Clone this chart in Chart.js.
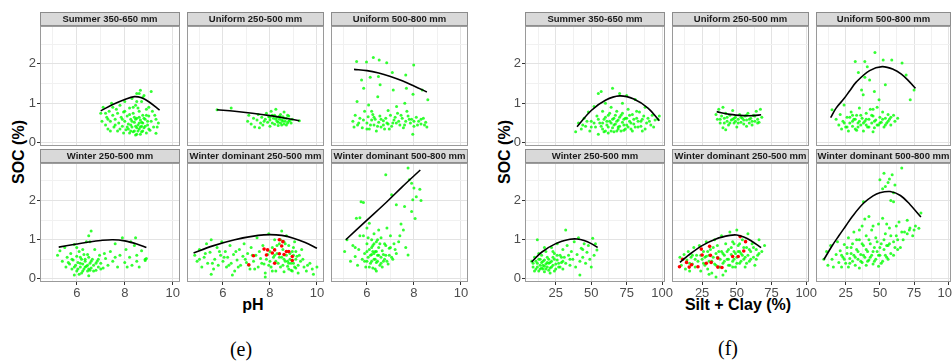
<!DOCTYPE html>
<html>
<head>
<meta charset="utf-8">
<script src="https://cdn.jsdelivr.net/npm/chart.js@4.4.1/dist/chart.umd.min.js"></script>
<style>
body{margin:0;background:#fff;width:952px;height:362px;position:relative;overflow:hidden;font-family:"Liberation Sans",Arial,sans-serif}
canvas{position:absolute}
.lab{position:absolute;transform:translate(-50%,-50%);white-space:nowrap;font-weight:bold;font-size:16px;color:#000}
.rot{transform:translate(-50%,-50%) rotate(-90deg)}
.cap{position:absolute;transform:translate(-50%,-50%);font-family:"Liberation Serif","Times New Roman",serif;font-size:20px;color:#000}
</style>
</head>
<body>
<div class="lab rot" style="left:19px;top:152px">SOC (%)</div>
<div class="lab rot" style="left:505px;top:152px">SOC (%)</div>
<div class="lab" style="left:253px;top:305px">pH</div>
<div class="lab" style="left:738px;top:305px">Silt + Clay (%)</div>
<div class="cap" style="left:241px;top:349px">(e)</div>
<div class="cap" style="left:728px;top:348px">(f)</div>
<script>
// strip labels, row by row
const stripNames = ["Summer 350-650 mm", "Uniform 250-500 mm", "Uniform 500-800 mm",
  "Winter 250-500 mm", "Winter dominant 250-500 mm", "Winter dominant 500-800 mm"];

const socTicks = [0, 1, 2];
const socMinor = [0.5, 1.5, 2.5];
const phTicks = [6, 8, 10];
const phMinor = [5, 7, 9];
const scTicks = [25, 50, 75, 100];
const scMinor = [12.5, 37.5, 62.5, 87.5];

// ---- (e) SOC vs pH ----
const e1 = [[7.0,0.75],[7.05,0.55],[7.1,0.9],[7.2,0.45],[7.25,0.65],[7.3,0.35],[7.35,0.8],[7.4,0.55],[7.45,1.0],[7.5,0.7],[7.55,0.4],[7.6,0.6],[7.65,0.85],[7.7,0.3],[7.75,0.5],[7.8,0.95],[7.85,0.65],[7.9,0.42],[7.95,0.78],[8.0,0.55],[8.0,1.05],[8.05,0.33],[8.1,0.68],[8.15,0.48],[8.2,0.88],[8.2,0.25],[8.25,0.6],[8.3,1.12],[8.3,0.4],[8.35,0.75],[8.4,0.52],[8.4,0.3],[8.45,0.95],[8.5,0.62],[8.5,1.25],[8.5,0.22],[8.55,0.45],[8.6,0.8],[8.6,0.35],[8.65,1.33],[8.65,0.58],[8.7,0.28],[8.7,1.05],[8.75,0.5],[8.75,0.7],[8.8,0.38],[8.8,1.2],[8.85,0.6],[8.9,0.25],[8.9,0.85],[8.95,0.45],[9.0,0.68],[9.05,0.32],[9.1,0.55],[9.1,1.3],[9.2,0.4],[9.25,0.7],[9.3,0.24],[9.4,0.5],[8.45,0.42],[8.55,0.3],[8.3,0.55],[8.15,0.35],[7.95,0.25],[8.6,0.5],[8.4,0.65],[8.7,0.42],[8.25,0.45],
  [8.2,0.72],[8.35,0.28],[8.45,0.6],[8.5,0.38],[8.55,0.88],[8.6,0.65],[8.65,0.4],[8.7,0.52],[8.75,0.3],[8.8,0.62],[8.85,0.42],[8.9,0.7],[8.95,0.55],[9.0,0.35],[9.0,0.9],[8.1,0.4],[8.0,0.8],[7.9,0.6],[7.8,0.35],[7.7,0.75],[7.6,0.45],[7.5,0.9],[7.4,0.3],[7.3,0.6],[7.2,0.75],[8.35,0.9],[8.5,1.05],[8.75,1.15],[8.6,1.25],[9.15,0.8],[9.3,0.6],[9.35,0.4],[8.25,0.3],[8.45,0.2],[8.65,0.22]];
const e2 = [[5.75,0.84],[6.35,0.88],[7.05,0.55],[7.1,0.7],[7.2,0.48],[7.3,0.62],[7.35,0.4],[7.45,0.58],[7.5,0.72],[7.6,0.5],[7.65,0.65],[7.7,0.45],[7.8,0.6],[7.85,0.75],[7.9,0.52],[7.95,0.66],[8.0,0.42],[8.0,0.58],[8.05,0.8],[8.1,0.5],[8.15,0.62],[8.2,0.7],[8.2,0.47],[8.25,0.85],[8.3,0.55],[8.3,0.65],[8.35,0.44],[8.4,0.6],[8.45,0.72],[8.45,0.5],[8.5,0.58],[8.55,0.66],[8.6,0.48],[8.6,0.78],[8.65,0.55],[8.7,0.62],[8.75,0.5],[8.8,0.68],[8.85,0.57],[8.95,0.6],[9.25,0.56],[7.55,0.38],
  [8.1,0.7],[8.25,0.6],[8.35,0.52],[8.4,0.68],[8.5,0.45],[8.55,0.55],[8.6,0.62],[8.7,0.45],[8.75,0.7],[8.8,0.55],[8.9,0.5],[8.0,0.65],[7.75,0.55],[8.45,0.65]];
const e3 = [[5.56,2.06],[5.98,2.05],[6.27,2.16],[6.52,2.1],[6.84,2.03],[7.99,1.97],[5.77,1.59],[6.14,1.66],[6.49,1.68],[7.08,1.78],[7.65,1.72],[5.86,1.38],[6.56,1.47],[7.12,1.34],[7.68,1.38],[7.96,1.23],[8.35,1.34],[8.59,1.09],[5.58,1.05],[6.07,0.96],[6.46,1.17],[7.26,0.92],[7.61,1.0],
  [5.4,0.55],[5.5,0.7],[5.6,0.45],[5.7,0.62],[5.8,0.38],[5.9,0.8],[6.0,0.5],[6.05,0.66],[6.1,0.35],[6.2,0.58],[6.25,0.72],[6.3,0.45],[6.35,0.6],[6.4,0.3],[6.5,0.52],[6.55,0.68],[6.6,0.4],[6.7,0.56],[6.75,0.35],[6.8,0.62],[6.9,0.48],[7.0,0.7],[7.05,0.42],[7.15,0.58],[7.25,0.5],[7.3,0.75],[7.4,0.45],[7.5,0.62],[7.55,0.38],[7.65,0.55],[7.75,0.68],[7.85,0.5],[7.9,0.6],[8.0,0.42],[8.1,0.65],[8.2,0.55],[8.3,0.48],[8.4,0.62],[8.5,0.52],[8.55,0.4],[7.95,0.22],
  [5.45,0.4],[5.65,0.5],[5.85,0.58],[6.0,0.35],[6.15,0.45],[6.3,0.65],[6.45,0.42],[6.6,0.6],[6.7,0.45],[6.85,0.5],[6.95,0.35],[7.1,0.5],[7.2,0.65],[7.35,0.55],[7.45,0.7],[7.6,0.45],[7.8,0.6],[8.0,0.55],[8.15,0.45],[8.3,0.6],[8.45,0.45],[6.2,0.8],[6.9,0.82],[7.7,0.8]];
const e4 = [[5.2,0.6],[5.3,0.72],[5.4,0.45],[5.5,0.8],[5.55,0.3],[5.6,0.55],[5.7,0.38],[5.75,0.65],[5.8,0.25],[5.85,0.48],[5.9,0.88],[5.95,0.35],[6.0,0.58],[6.0,0.2],[6.05,0.42],[6.1,0.7],[6.15,0.3],[6.2,0.5],[6.2,0.15],[6.25,0.38],[6.3,0.62],[6.3,0.25],[6.35,0.45],[6.4,0.95],[6.4,0.32],[6.45,0.2],[6.5,0.55],[6.5,1.1],[6.55,0.4],[6.6,0.28],[6.6,1.22],[6.65,0.5],[6.7,0.35],[6.75,0.75],[6.8,0.22],[6.85,0.45],[6.9,0.3],[6.95,0.6],[7.0,0.4],[7.1,0.28],[7.2,0.52],[7.3,0.35],[7.4,0.7],[7.5,0.45],[7.6,0.9],[7.7,0.3],[7.8,0.6],[7.9,1.05],[8.0,0.42],[8.05,0.75],[8.2,0.55],[8.3,0.35],[8.4,0.85],[8.45,1.05],[8.5,0.6],[8.6,0.3],[8.7,0.72],[8.85,0.5],[8.9,0.52],[8.85,0.47],[6.1,0.12],[6.5,0.08],[5.9,0.1],[6.35,0.3],[6.55,0.22],[6.15,0.4],
  [5.65,0.42],[5.8,0.5],[5.9,0.3],[6.05,0.25],[6.15,0.55],[6.25,0.2],[6.35,0.5],[6.45,0.35],[6.5,0.25],[6.6,0.45],[6.7,0.2],[6.8,0.4],[6.9,0.5],[7.0,0.25],[6.45,0.62],[6.25,0.75],[6.0,0.8],[6.55,0.95],[7.15,0.65],[7.6,0.55],[8.1,0.3],[8.25,0.95],[8.5,0.45]];
const e5 = [[4.8,0.6],[4.9,0.45],[5.0,0.75],[5.1,0.3],[5.2,0.55],[5.3,0.9],[5.35,0.4],[5.45,0.68],[5.5,1.0],[5.6,0.25],[5.65,0.5],[5.75,0.8],[5.8,0.35],[5.9,0.6],[5.95,0.95],[6.0,0.45],[6.1,0.7],[6.15,0.3],[6.2,0.55],[6.3,0.85],[6.35,0.4],[6.45,0.62],[6.5,0.2],[6.6,0.48],[6.7,0.75],[6.75,0.35],[6.85,0.58],[6.9,0.9],[7.0,0.42],[7.05,0.65],[7.15,0.25],[7.2,0.8],[7.3,0.45],[7.4,0.6],[7.45,1.05],[7.5,0.3],[7.6,0.52],[7.7,0.85],[7.75,0.38],[7.8,0.15],[7.9,0.62],[7.95,1.15],[8.0,0.45],[8.05,0.3],[8.1,0.8],[8.15,0.55],[8.2,1.0],[8.25,0.2],[8.3,0.65],[8.35,0.4],[8.4,0.9],[8.45,0.3],[8.5,0.55],[8.5,1.22],[8.55,0.75],[8.6,0.18],[8.65,0.45],[8.7,1.1],[8.7,0.6],[8.75,0.32],[8.8,0.85],[8.85,0.5],[8.9,0.22],[8.95,0.7],[9.0,0.4],[9.05,0.95],[9.1,0.28],[9.15,0.58],[9.2,0.15],[9.3,0.45],[9.35,0.75],[9.45,0.3],[9.55,0.2],[9.7,0.4],[9.85,0.12],[10.0,0.3],[7.8,0.05],[6.4,0.1],[5.5,0.12],[8.6,0.95],[8.8,0.4],[9.0,0.6],
  [5.0,0.5],[5.25,0.65],[5.55,0.4],[5.85,0.7],[6.05,0.55],[6.25,0.35],[6.55,0.7],[6.65,0.3],[6.95,0.5],[7.1,0.35],[7.25,0.6],[7.35,0.25],[7.55,0.7],[7.65,0.4],[7.85,0.5],[8.0,0.7],[8.1,0.2],[8.25,0.45],[8.3,0.85],[8.4,0.55],[8.55,0.35],[8.6,0.5],[8.75,0.45],[8.8,0.25],[8.85,0.65],[8.9,0.4],[9.0,0.8],[9.05,0.3],[9.1,0.5],[9.2,0.35],[9.25,0.6],[9.4,0.5],[9.6,0.35],[9.8,0.25],[8.65,0.9],[8.45,1.0],[8.2,0.6],[7.95,0.35],[9.1,0.7],[8.95,0.2]];
const e5Red = [[7.1,0.36],[7.3,0.59],[7.75,0.76],[7.9,0.74],[7.85,0.61],[8.1,0.66],[8.2,0.74],[8.2,0.4],[8.4,1.0],[8.4,0.64],[8.5,0.84],[8.55,0.95],[8.7,0.7],[8.8,0.7],[8.95,0.57],[8.95,0.47],[8.6,0.62]];
const e6 = [[5.05,0.7],[5.15,1.0],[5.3,0.45],[5.4,0.85],[5.5,0.57],[5.55,1.55],[5.6,0.35],[5.65,0.75],[5.7,1.56],[5.75,1.97],[5.8,0.5],[5.85,1.95],[5.85,1.1],[5.9,0.65],[5.95,0.3],[6.0,0.9],[6.0,1.3],[6.05,0.55],[6.1,0.75],[6.1,1.42],[6.15,0.4],[6.2,1.0],[6.2,0.62],[6.25,0.85],[6.25,0.28],[6.3,0.5],[6.3,1.15],[6.35,0.7],[6.4,0.95],[6.4,0.42],[6.45,0.6],[6.5,1.25],[6.5,0.8],[6.55,0.35],[6.6,0.55],[6.6,1.05],[6.65,0.72],[6.7,0.45],[6.75,0.9],[6.8,2.66],[6.8,0.6],[6.85,1.3],[6.9,0.38],[6.95,0.78],[7.0,1.1],[7.05,2.15],[7.05,0.55],[7.15,0.9],[7.25,1.89],[7.25,0.65],[7.35,0.95],[7.45,1.4],[7.55,1.25],[7.6,1.85],[7.75,2.83],[7.75,0.61],[7.8,2.53],[7.9,2.44],[7.9,1.72],[7.95,2.02],[8.0,2.32],[8.05,1.54],[8.1,2.1],[8.25,2.29],[8.3,2.0],[6.35,0.25],[6.0,0.45],[6.2,0.8],[6.45,1.0],[6.3,0.65],
  [5.9,0.45],[6.0,0.7],[6.05,1.05],[6.15,0.6],[6.2,0.45],[6.25,0.7],[6.3,0.9],[6.35,0.5],[6.4,0.7],[6.45,0.45],[6.5,0.6],[6.55,0.9],[6.6,0.4],[6.7,0.62],[6.75,0.5],[6.8,0.85],[6.85,0.45],[6.95,0.6],[7.0,0.8],[7.1,0.5],[7.2,0.75],[6.1,0.3],[6.4,0.2],[6.65,0.3],[5.7,1.1],[5.5,0.8],[7.4,1.1],[7.65,0.8]];

const e1Fit = [[7.0,0.81],[7.5,0.97],[8.0,1.10],[8.4,1.17],[8.7,1.14],[9.0,1.04],[9.45,0.83]];
const e2Fit = [[5.75,0.84],[6.5,0.8],[7.25,0.75],[8.0,0.69],[8.6,0.63],[9.25,0.56]];
const e3Fit = [[5.45,1.86],[6.0,1.83],[6.5,1.77],[7.0,1.68],[7.5,1.57],[8.0,1.44],[8.55,1.29]];
const e4Fit = [[5.25,0.81],[6.0,0.89],[6.5,0.94],[7.0,0.98],[7.5,1.0],[8.0,0.97],[8.5,0.89],[8.9,0.8]];
const e5Fit = [[4.75,0.66],[5.5,0.83],[6.5,1.0],[7.5,1.11],[8.0,1.13],[8.5,1.11],[9.0,1.04],[9.5,0.93],[10.0,0.78]];
const e6Fit = [[5.1,1.0],[6.0,1.5],[6.85,1.97],[7.5,2.35],[8.27,2.78]];

// ---- (f) SOC vs silt + clay ----
const f1 = [[39,0.28],[41,0.5],[43,0.35],[45,0.62],[46,0.42],[48,0.78],[49,0.3],[50,0.55],[52,0.92],[53,0.4],[54,0.68],[55,1.25],[55,0.22],[56,0.5],[57,1.3],[58,0.8],[58,0.35],[59,0.6],[60,1.0],[61,0.45],[62,0.7],[62,0.25],[63,0.55],[64,0.9],[65,0.38],[65,1.38],[66,0.62],[67,0.48],[68,0.8],[68,0.3],[69,0.58],[70,1.25],[70,0.42],[71,0.7],[72,0.52],[72,1.0],[73,0.32],[74,0.62],[75,1.2],[75,0.45],[76,0.85],[77,0.55],[78,0.35],[79,0.72],[80,0.48],[81,1.1],[82,0.62],[83,0.4],[84,0.78],[85,0.55],[86,0.3],[87,0.68],[88,0.9],[89,0.5],[90,0.62],[92,0.45],[93,0.7],[95,0.58],[97,0.6],[98,0.68],[60,0.3],[66,0.28],[73,0.6],[64,0.5],[69,0.35],[58,0.5],
  [55,0.6],[57,0.42],[59,0.28],[60,0.65],[61,0.55],[62,0.4],[63,0.75],[64,0.3],[65,0.6],[66,0.45],[67,0.7],[68,0.55],[69,0.4],[70,0.65],[71,0.3],[72,0.75],[73,0.45],[74,0.35],[75,0.62],[76,0.4],[77,0.7],[78,0.5],[79,0.3],[80,0.6],[81,0.4],[82,0.8],[83,0.55],[85,0.42],[86,0.6],[88,0.35],[52,0.5],[50,0.4],[47,0.55],[44,0.45],[91,0.55],[94,0.4]];
const f2 = [[35,0.72],[36,0.6],[37,0.85],[38,0.5],[39,0.68],[40,0.9],[40,0.38],[41,0.62],[42,0.75],[43,0.55],[44,0.45],[45,0.7],[46,0.58],[47,0.82],[48,0.5],[49,0.65],[50,0.4],[51,0.6],[52,0.72],[53,0.52],[54,0.62],[55,0.48],[56,0.68],[57,0.58],[58,0.75],[59,0.5],[60,0.62],[61,0.45],[62,0.7],[63,0.55],[64,0.8],[65,0.6],[66,0.52],[67,0.85],[68,0.65],[42,0.33],[48,0.62],[57,0.42],
  [38,0.6],[41,0.5],[43,0.65],[45,0.5],[47,0.6],[49,0.55],[51,0.5],[53,0.65],[55,0.58],[57,0.7],[59,0.6],[61,0.55],[63,0.68],[65,0.5]];
const f3 = [[46.4,2.29],[32,2.06],[39,2.06],[52.4,2.1],[58.7,2.1],[66.2,2.02],[40.8,1.93],[34.3,1.78],[69.2,1.72],[39,1.66],[42.5,1.59],[54,1.47],[36.6,1.34],[46,1.3],[75,1.34],[72.2,1.09],[23.8,0.96],[37.8,1.22],[49.4,1.09],
  [15,0.84],[18,0.6],[20,0.45],[21,0.72],[22,0.35],[23,0.55],[25,0.4],[26,0.65],[27,0.3],[28,0.5],[29,0.78],[30,0.42],[31,0.6],[32,0.35],[33,0.7],[34,0.5],[35,0.88],[36,0.45],[37,0.62],[38,0.3],[39,0.55],[40,0.75],[41,0.4],[42,0.6],[43,0.85],[44,0.5],[45,0.68],[46,0.38],[47,0.58],[48,0.9],[49,0.45],[50,0.65],[51,0.52],[52,0.78],[53,0.4],[54,0.62],[55,0.5],[56,0.72],[57,0.6],[58,0.45],[60,0.7],[61,0.55],[63,0.62],[45,0.28],[33,0.32],
  [24,0.5],[26,0.4],[28,0.65],[30,0.55],[32,0.6],[34,0.4],[36,0.7],[38,0.5],[40,0.45],[42,0.4],[44,0.7],[46,0.55],[48,0.45],[50,0.5],[52,0.6],[54,0.45],[56,0.55],[58,0.65],[40,0.6],[35,0.55],[45,0.85],[30,0.7]];
const f4 = [[8,0.45],[9,0.3],[10,0.55],[11,0.25],[12,1.0],[12,0.4],[13,0.2],[14,0.35],[15,0.6],[15,0.28],[16,0.45],[17,0.18],[18,0.38],[18,0.7],[19,0.3],[20,0.5],[20,0.22],[21,0.42],[22,0.8],[22,0.3],[23,0.55],[24,0.2],[24,0.65],[25,0.38],[26,0.48],[26,0.9],[27,0.3],[28,0.6],[29,0.42],[30,0.75],[30,0.25],[31,0.55],[32,1.25],[32,0.4],[33,0.85],[34,0.6],[35,0.35],[36,0.7],[37,0.5],[38,0.95],[39,0.3],[40,0.62],[41,1.05],[42,0.1],[42,0.45],[43,0.78],[44,0.55],[45,0.9],[46,0.4],[47,0.68],[48,0.85],[49,0.5],[50,0.3],[51,1.04],[52,0.6],[54,0.74],[53,0.9],[14,0.5],[16,0.25],[21,0.15],[17,0.32],[19,0.42],
  [9,0.4],[10,0.2],[11,0.45],[12,0.3],[13,0.5],[14,0.25],[15,0.42],[16,0.35],[17,0.48],[18,0.25],[19,0.55],[20,0.4],[21,0.28],[22,0.45],[23,0.35],[24,0.5],[25,0.25],[26,0.6],[27,0.4],[28,0.3],[29,0.55],[30,0.45],[13,0.65],[17,0.8],[23,0.7],[35,0.5],[44,0.75]];
const f5 = [[9,0.55],[10,0.35],[12,0.62],[13,0.25],[14,0.48],[15,0.7],[16,0.2],[17,0.55],[18,0.38],[19,0.8],[20,0.3],[21,0.6],[22,0.45],[23,0.85],[24,0.2],[25,0.5],[26,0.7],[27,0.35],[28,0.95],[28,0.58],[29,0.25],[30,0.45],[31,0.75],[32,0.15],[33,0.55],[34,1.0],[34,0.38],[35,0.65],[36,0.85],[37,0.3],[38,0.5],[39,1.1],[39,0.7],[40,0.4],[41,0.6],[42,0.9],[42,0.2],[43,0.5],[44,0.75],[45,1.2],[45,0.35],[46,0.62],[47,0.95],[47,0.45],[48,0.7],[49,0.3],[50,1.25],[50,0.55],[51,0.85],[52,0.4],[53,0.65],[54,1.0],[55,0.5],[56,0.3],[57,0.8],[58,1.15],[58,0.6],[59,0.45],[60,0.7],[61,0.9],[62,0.55],[63,0.35],[64,0.75],[65,0.6],[66,1.0],[68,0.7],[70,0.85],[35,0.05],[40,0.1],[30,0.12],[44,0.5],[48,0.9],[52,0.7],
  [24,0.6],[26,0.4],[27,0.55],[29,0.7],[30,0.6],[32,0.45],[33,0.8],[35,0.35],[36,0.55],[37,0.7],[38,0.3],[40,0.65],[41,0.45],[43,0.7],[44,0.35],[46,0.8],[47,0.3],[48,0.5],[49,0.65],[50,0.4],[51,0.7],[52,0.9],[53,0.45],[54,0.6],[55,0.8],[56,0.55],[57,0.4],[59,0.75],[60,0.5],[62,0.8],[64,0.5],[66,0.65],[20,0.5],[18,0.6],[16,0.4]];
const f5Red = [[8.7,0.31],[11,0.5],[13.8,0.42],[15.7,0.3],[17.4,0.36],[22,0.31],[25,0.61],[24.4,0.76],[30.4,0.83],[28,0.4],[31,0.6],[31.5,0.42],[36.3,0.53],[36.3,0.3],[39.3,0.29],[47,0.57],[51,0.57],[55,0.71],[56.3,0.95],[52.4,1.08]];
const f6 = [[9,0.5],[11,0.7],[12,0.35],[14,0.85],[15,0.5],[16,0.3],[18,0.62],[19,0.95],[20,0.42],[21,0.72],[22,0.3],[23,0.55],[24,0.88],[25,0.4],[26,0.65],[27,1.05],[27,0.3],[28,0.52],[29,0.8],[30,0.45],[31,1.2],[31,0.6],[32,0.35],[33,0.75],[34,0.5],[35,1.0],[35,0.28],[36,0.62],[37,1.35],[37,0.42],[38,0.85],[38,1.97],[39,0.55],[39,1.53],[40,1.1],[40,0.35],[41,0.7],[42,1.59],[42,0.48],[43,0.9],[44,0.6],[44,1.25],[45,0.38],[46,0.8],[47,1.05],[47,0.5],[48,0.7],[49,1.4],[49,0.32],[50,0.6],[50,2.53],[51,0.9],[52,1.55],[52,0.45],[53,2.7],[53,0.75],[54,2.36],[54,1.15],[55,0.55],[56,2.46],[56,0.85],[57,1.3],[58,2.0],[58,0.65],[59,2.66],[60,1.97],[60,0.95],[61,2.4],[62,1.1],[64,1.45],[66,2.83],[66,1.2],[68,1.2],[70,1.5],[71.5,1.25],[74,1.1],[76,1.35],[78.5,1.29],[80,1.68],[63,0.75],
  [22,0.6],[24,0.5],[26,0.8],[28,0.4],[29,0.65],[30,0.9],[32,0.55],[33,1.0],[34,0.7],[36,0.45],[37,0.9],[38,0.6],[40,0.75],[41,0.45],[42,1.0],[43,0.55],[45,0.7],[46,0.45],[48,0.95],[49,0.6],[50,0.8],[51,0.4],[53,1.0],[54,0.6],[55,0.85],[56,0.5],[57,0.9],[58,1.1],[60,0.6],[61,0.8],[63,1.0],[65,0.8],[67,1.0],[70,1.15],[72,1.3],[75,1.25],[62,1.35],[55,1.4],[45,1.35],[35,1.25],[60,2.2],[57,2.55],[52,2.3]];

const f1Fit = [[40,0.41],[50,0.82],[60,1.08],[70,1.19],[80,1.11],[90,0.88],[98,0.56]];
const f2Fit = [[35.5,0.79],[45,0.72],[55,0.69],[62,0.69],[67.5,0.71]];
const f3Fit = [[14,0.64],[18,0.88],[23.8,1.12],[28,1.32],[33,1.55],[42.5,1.83],[51.7,1.93],[60,1.86],[65.7,1.74],[71,1.57],[76,1.38]];
const f4Fit = [[8,0.43],[15,0.68],[25,0.9],[35,1.01],[40,1.02],[45,0.98],[50,0.9],[54.5,0.8]];
const f5Fit = [[9,0.42],[15,0.6],[25,0.85],[35,1.02],[45,1.11],[50,1.12],[55,1.07],[60,0.98],[67.5,0.8]];
const f6Fit = [[9,0.49],[15,0.84],[20,1.1],[25,1.35],[30,1.6],[38,1.93],[45,2.12],[50,2.2],[57.5,2.23],[65,2.13],[72,1.9],[80,1.58]];

// panel geometry (pixels)
const rowTop = [12, 149], plotBottom = [146, 282];
const yAxisW = 40, xAxisH = 24, padR = 12;

const figs = [
  {lefts: [40, 183, 327], rights: [180, 324, 468], xMin: 4.47, xMax: 10.3,
   major: phTicks, minor: phMinor,
   pts: [e1, e2, e3, e4, e5, e6], red: [null, null, null, null, e5Red, null],
   fits: [e1Fit, e2Fit, e3Fit, e4Fit, e5Fit, e6Fit]},
  {lefts: [525, 668, 812], rights: [665, 809, 951], xMin: 3.3, xMax: 102,
   major: scTicks, minor: scMinor,
   pts: [f1, f2, f3, f4, f5, f6], red: [null, null, null, null, f5Red, null],
   fits: [f1Fit, f2Fit, f3Fit, f4Fit, f5Fit, f6Fit]}
];

const toXY = a => a.map(p => ({x: p[0], y: p[1]}));

const stripPlugin = {
  id: 'strip',
  beforeDraw(chart) {
    const ctx = chart.ctx, a = chart.chartArea;
    ctx.save();
    ctx.fillStyle = '#d9d9d9';
    ctx.fillRect(a.left, 0, a.right - a.left, a.top);
    ctx.strokeStyle = '#8c8c8c';
    ctx.lineWidth = 1;
    ctx.strokeRect(a.left + 0.5, 0.5, a.right - a.left - 1, a.top - 1);
    ctx.restore();
  },
  afterDraw(chart) {
    const ctx = chart.ctx, a = chart.chartArea;
    ctx.save();
    ctx.strokeStyle = '#9a9a9a';
    ctx.lineWidth = 1;
    ctx.strokeRect(a.left + 0.5, a.top + 0.5, a.right - a.left - 1, a.bottom - a.top - 1);
    ctx.restore();
  }
};

Chart.defaults.font.family = '"Liberation Sans", Arial, sans-serif';

function axis(min, max, major, minor, showLabels, fit) {
  const all = major.concat(minor).filter(v => v >= min && v <= max).sort((a, b) => a - b);
  return {
    type: 'linear', min: min, max: max,
    afterBuildTicks: s => { s.ticks = all.map(v => ({value: v})); },
    afterFit: fit,
    border: {display: false},
    grid: {
      color: c => (c.tick && major.includes(c.tick.value)) ? '#e3e3e3' : '#f1f1f1',
      lineWidth: 1,
      drawTicks: showLabels, tickLength: 3,
      tickColor: c => (c.tick && major.includes(c.tick.value)) ? '#333333' : 'rgba(0,0,0,0)'
    },
    ticks: {
      display: showLabels, color: '#4d4d4d', font: {size: 13}, padding: 1,
      maxRotation: 0, autoSkip: false,
      callback: v => major.includes(v) ? String(v) : ''
    }
  };
}

figs.forEach(fig => {
  for (let i = 0; i < 6; i++) {
    const r = Math.floor(i / 3), c = i % 3;
    const left = fig.lefts[c] - (c === 0 ? yAxisW : 0);
    const w = fig.rights[c] - fig.lefts[c] + (c === 0 ? yAxisW : 0) + padR;
    const h = plotBottom[r] - rowTop[r] + xAxisH;
    const cv = document.createElement('canvas');
    cv.width = w; cv.height = h;
    cv.style.left = left + 'px'; cv.style.top = rowTop[r] + 'px';
    document.body.appendChild(cv);

    const datasets = [{
      data: toXY(fig.fits[i]), showLine: true, borderColor: '#000000', borderWidth: 1.6,
      pointRadius: 0, tension: 0.35, order: 0
    }];
    if (fig.red[i]) datasets.push({
      data: toXY(fig.red[i]), backgroundColor: '#ff0000', borderWidth: 0, pointRadius: 1.8, order: 1
    });
    datasets.push({
      data: toXY(fig.pts[i]), backgroundColor: 'rgba(0,255,0,0.8)', borderWidth: 0, pointRadius: 1.5, order: 2
    });

    new Chart(cv, {
      type: 'scatter',
      data: {datasets: datasets},
      plugins: [stripPlugin],
      options: {
        responsive: false, animation: false, events: [],
        layout: {padding: {left: 0, right: padR, top: 0, bottom: 0}},
        plugins: {
          legend: {display: false}, tooltip: {enabled: false},
          title: {display: true, text: stripNames[i], fullSize: false, color: '#1a1a1a',
                  font: {size: 9.5, weight: 'bold', lineHeight: 1.26}, padding: {top: 1, bottom: 1}}
        },
        scales: {
          x: axis(fig.xMin, fig.xMax, fig.major, fig.minor, r === 1,
                  s => { s.height = xAxisH; }),
          y: axis(-0.08, 2.96, socTicks, socMinor, c === 0,
                  s => { s.width = c === 0 ? yAxisW : 0; })
        }
      }
    });
  }
});
</script>
</body>
</html>
